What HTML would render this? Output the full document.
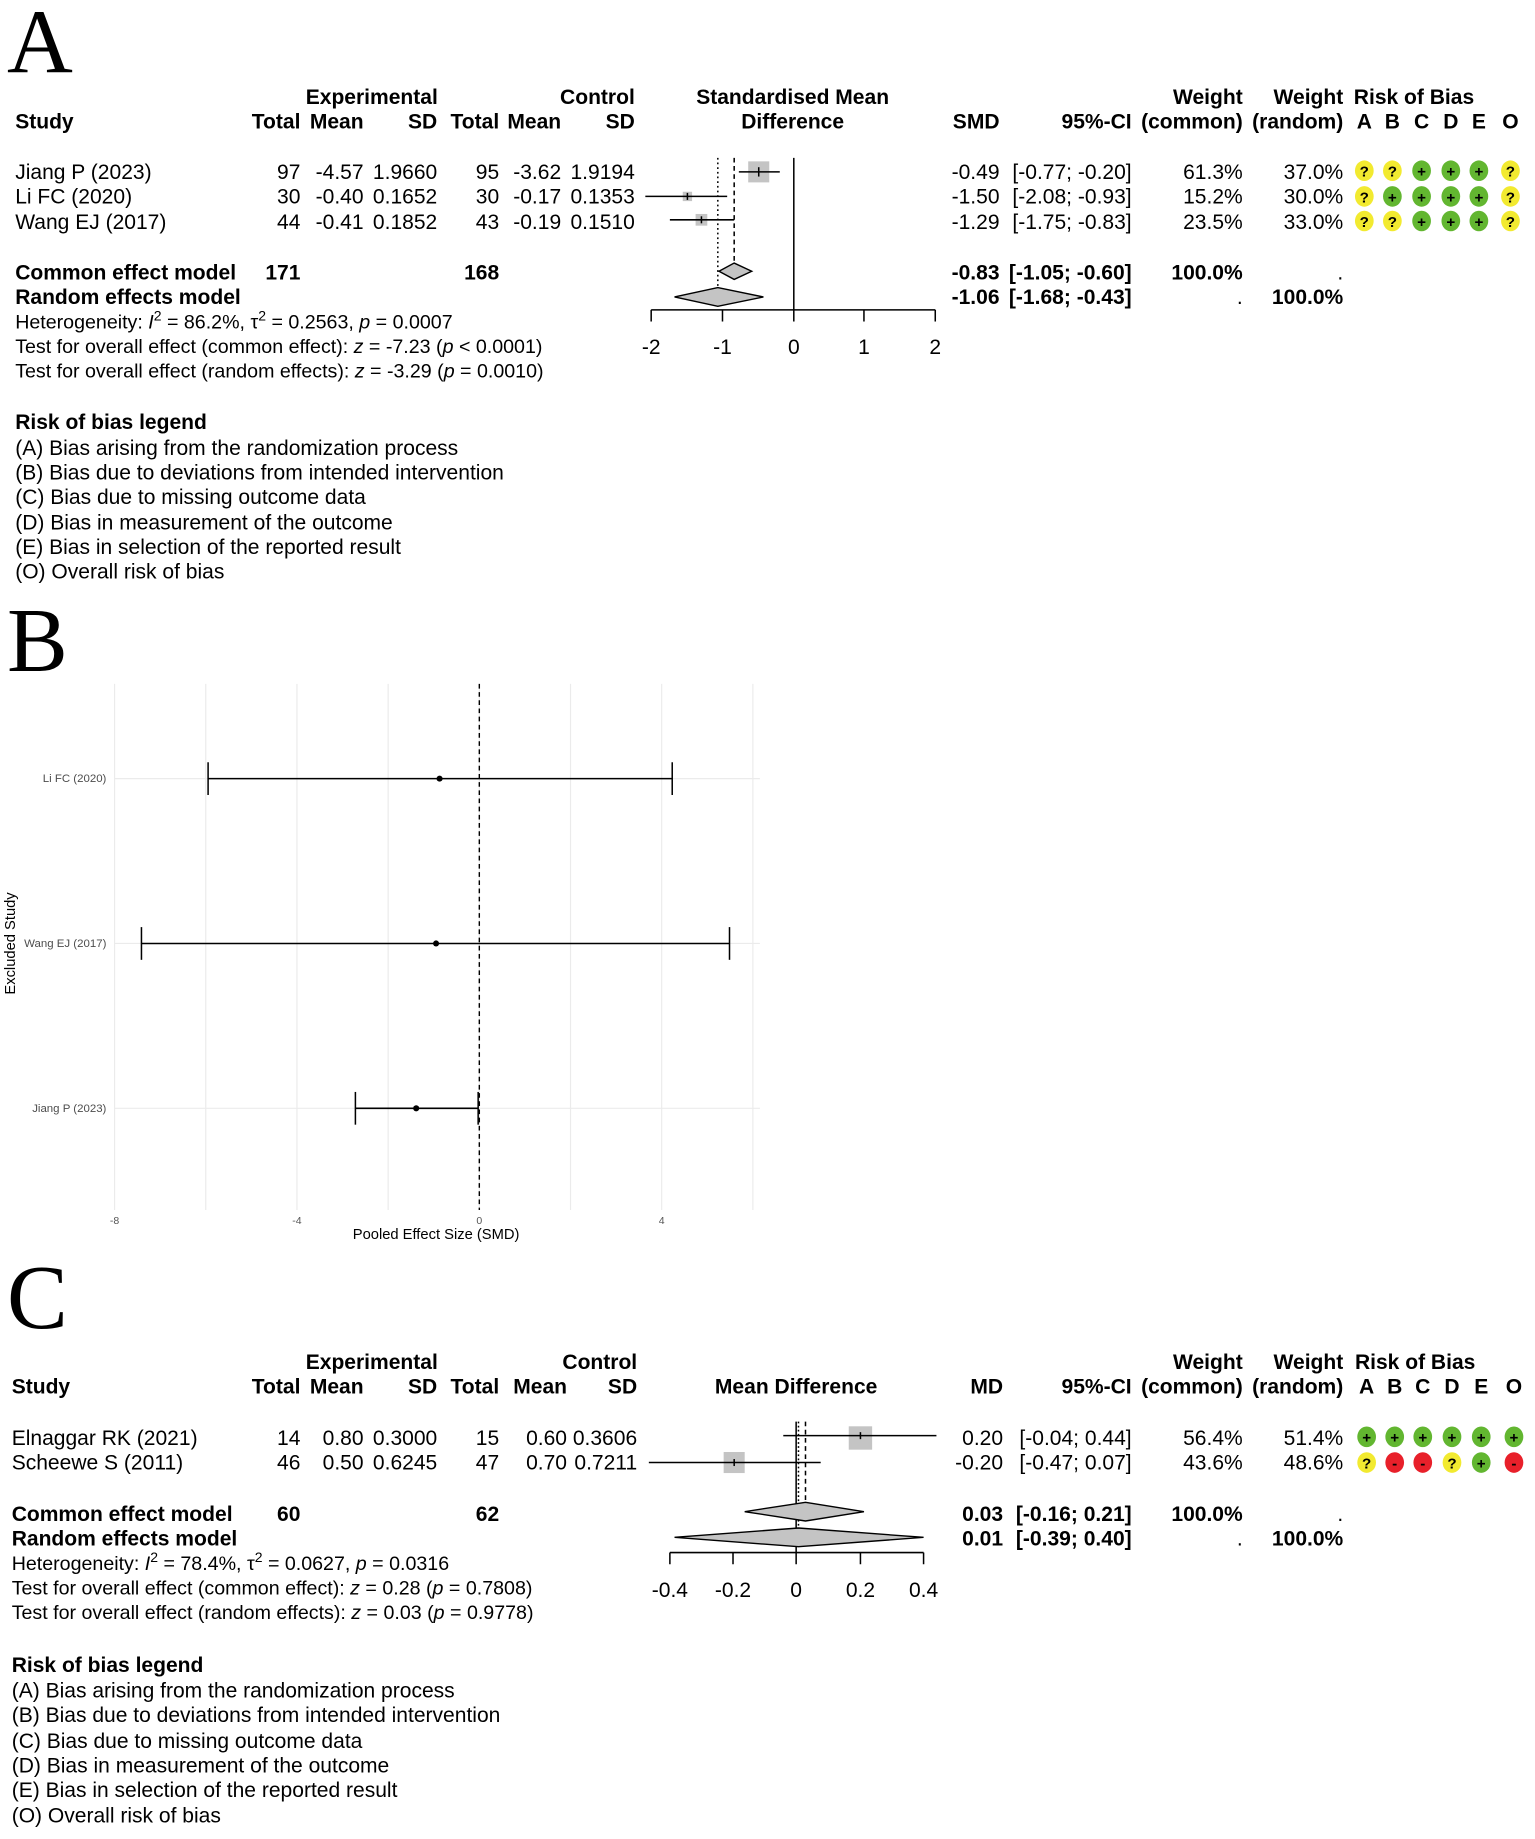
<!DOCTYPE html>
<html><head><meta charset="utf-8"><style>
html,body{margin:0;padding:0;background:#fff}
svg{display:block}
text{font-family:"Liberation Sans",Arial,sans-serif;font-size:18px;fill:#000}
.b{font-weight:bold}
.e{text-anchor:end}
.m{text-anchor:middle}
.big{font-family:"Liberation Serif",serif;font-size:78px}
.g{font-size:9px;fill:#555}
.s{font-size:9.8px;fill:#4d4d4d}
.ax{font-size:12.6px;fill:#000}
.st{font-size:16.8px}
.q{font-size:13px;font-weight:bold;text-anchor:middle}
</style></head><body>
<svg width="1535" height="1839" viewBox="0 0 1313 1573" xmlns="http://www.w3.org/2000/svg">
<rect width="1313" height="1573" fill="#fff"/>
<!-- ================= A ================= -->
<text x="6" y="62" class="big">A</text>
<g class="b">
<text x="318" y="89" class="m">Experimental</text>
<text x="543" y="89" class="e">Control</text>
<text x="678" y="89" class="m">Standardised Mean</text>
<text x="1063" y="89" class="e">Weight</text>
<text x="1149" y="89" class="e">Weight</text>
<text x="1158" y="89">Risk of Bias</text>
<text x="13" y="110">Study</text>
<text x="257" y="110" class="e">Total</text>
<text x="311" y="110" class="e">Mean</text>
<text x="374" y="110" class="e">SD</text>
<text x="427" y="110" class="e">Total</text>
<text x="480" y="110" class="e">Mean</text>
<text x="543" y="110" class="e">SD</text>
<text x="678" y="110" class="m">Difference</text>
<text x="855" y="110" class="e">SMD</text>
<text x="968" y="110" class="e">95%-CI</text>
<text x="1063" y="110" class="e">(common)</text>
<text x="1149" y="110" class="e">(random)</text>
<text x="1167" y="110" class="m">A</text><text x="1191" y="110" class="m">B</text><text x="1216" y="110" class="m">C</text><text x="1241" y="110" class="m">D</text><text x="1265" y="110" class="m">E</text><text x="1292" y="110" class="m">O</text>
</g>
<g>
<text x="13" y="153">Jiang P (2023)</text><text x="257" y="153" class="e">97</text><text x="311" y="153" class="e">-4.57</text><text x="374" y="153" class="e">1.9660</text><text x="427" y="153" class="e">95</text><text x="480" y="153" class="e">-3.62</text><text x="543" y="153" class="e">1.9194</text>
<text x="855" y="153" class="e">-0.49</text><text x="968" y="153" class="e">[-0.77; -0.20]</text><text x="1063" y="153" class="e">61.3%</text><text x="1149" y="153" class="e">37.0%</text>
<text x="13" y="174">Li FC (2020)</text><text x="257" y="174" class="e">30</text><text x="311" y="174" class="e">-0.40</text><text x="374" y="174" class="e">0.1652</text><text x="427" y="174" class="e">30</text><text x="480" y="174" class="e">-0.17</text><text x="543" y="174" class="e">0.1353</text>
<text x="855" y="174" class="e">-1.50</text><text x="968" y="174" class="e">[-2.08; -0.93]</text><text x="1063" y="174" class="e">15.2%</text><text x="1149" y="174" class="e">30.0%</text>
<text x="13" y="196">Wang EJ (2017)</text><text x="257" y="196" class="e">44</text><text x="311" y="196" class="e">-0.41</text><text x="374" y="196" class="e">0.1852</text><text x="427" y="196" class="e">43</text><text x="480" y="196" class="e">-0.19</text><text x="543" y="196" class="e">0.1510</text>
<text x="855" y="196" class="e">-1.29</text><text x="968" y="196" class="e">[-1.75; -0.83]</text><text x="1063" y="196" class="e">23.5%</text><text x="1149" y="196" class="e">33.0%</text>
</g>
<g class="b">
<text x="13" y="239">Common effect model</text><text x="257" y="239" class="e">171</text><text x="427" y="239" class="e">168</text>
<text x="855" y="239" class="e">-0.83</text><text x="968" y="239" class="e">[-1.05; -0.60]</text><text x="1063" y="239" class="e">100.0%</text><text x="1149" y="239" class="e" style="font-weight:normal">.</text>
<text x="13" y="260">Random effects model</text>
<text x="855" y="260" class="e">-1.06</text><text x="968" y="260" class="e">[-1.68; -0.43]</text><text x="1063" y="260" class="e" style="font-weight:normal">.</text><text x="1149" y="260" class="e">100.0%</text>
</g>
<text x="13" y="281" class="st">Heterogeneity: <tspan font-style="italic">I</tspan><tspan dy="-7" font-size="12">2</tspan><tspan dy="7"> = 86.2%, τ</tspan><tspan dy="-7" font-size="12">2</tspan><tspan dy="7"> = 0.2563, </tspan><tspan font-style="italic">p</tspan> = 0.0007</text>
<text x="13" y="302" class="st">Test for overall effect (common effect): <tspan font-style="italic">z</tspan> = -7.23 (<tspan font-style="italic">p</tspan> &lt; 0.0001)</text>
<text x="13" y="323" class="st">Test for overall effect (random effects): <tspan font-style="italic">z</tspan> = -3.29 (<tspan font-style="italic">p</tspan> = 0.0010)</text>
<text x="13" y="367" class="b">Risk of bias legend</text>
<text x="13" y="389">(A) Bias arising from the randomization process</text>
<text x="13" y="410">(B) Bias due to deviations from intended intervention</text>
<text x="13" y="431">(C) Bias due to missing outcome data</text>
<text x="13" y="453">(D) Bias in measurement of the outcome</text>
<text x="13" y="474">(E) Bias in selection of the reported result</text>
<text x="13" y="495">(O) Overall risk of bias</text>
<!-- plot A -->
<g stroke="#000" stroke-width="1.3" fill="none">
<line x1="679" y1="135" x2="679" y2="265"/>
<line x1="628" y1="135" x2="628" y2="226" stroke-dasharray="4,3"/>
<line x1="614" y1="135" x2="614" y2="248" stroke-dasharray="1.5,2.5"/>
<line x1="557" y1="265" x2="800" y2="265"/>
<line x1="557" y1="265" x2="557" y2="275"/><line x1="618" y1="265" x2="618" y2="275"/><line x1="679" y1="265" x2="679" y2="275"/><line x1="739" y1="265" x2="739" y2="275"/><line x1="800" y1="265" x2="800" y2="275"/>
</g>
<rect x="640" y="138" width="18" height="18" fill="#c4c4c4"/>
<rect x="584" y="164" width="8" height="8" fill="#c4c4c4"/>
<rect x="595" y="183" width="10" height="10" fill="#c4c4c4"/>
<g stroke="#000" stroke-width="1.3">
<line x1="632" y1="147" x2="667" y2="147"/><line x1="649" y1="143" x2="649" y2="151"/>
<line x1="552" y1="168" x2="622" y2="168"/><line x1="588" y1="165" x2="588" y2="171"/>
<line x1="573" y1="188" x2="628" y2="188"/><line x1="600" y1="185" x2="600" y2="191"/>
</g>
<polygon points="615,232 628,225 643,232 628,239" fill="#c4c4c4" stroke="#000" stroke-width="1.2"/>
<polygon points="577,254 614,246 653,254 614,262" fill="#c4c4c4" stroke="#000" stroke-width="1.2"/>
<text x="557" y="303" class="m">-2</text><text x="618" y="303" class="m">-1</text><text x="679" y="303" class="m">0</text><text x="739" y="303" class="m">1</text><text x="800" y="303" class="m">2</text>
<!-- ROB A -->
<g>
<g transform="translate(0,146)">
<ellipse cx="1167" cy="0" rx="8" ry="8.8" fill="#f2ea30"/><text x="1167" y="5" class="q">?</text>
<ellipse cx="1191" cy="0" rx="8" ry="8.8" fill="#f2ea30"/><text x="1191" y="5" class="q">?</text>
<ellipse cx="1216" cy="0" rx="8" ry="8.8" fill="#62b630"/><text x="1216" y="5" class="q">+</text>
<ellipse cx="1241" cy="0" rx="8" ry="8.8" fill="#62b630"/><text x="1241" y="5" class="q">+</text>
<ellipse cx="1265" cy="0" rx="8" ry="8.8" fill="#62b630"/><text x="1265" y="5" class="q">+</text>
<ellipse cx="1292" cy="0" rx="8" ry="8.8" fill="#f2ea30"/><text x="1292" y="5" class="q">?</text>
</g>
<g transform="translate(0,168)">
<ellipse cx="1167" cy="0" rx="8" ry="8.8" fill="#f2ea30"/><text x="1167" y="5" class="q">?</text>
<ellipse cx="1191" cy="0" rx="8" ry="8.8" fill="#62b630"/><text x="1191" y="5" class="q">+</text>
<ellipse cx="1216" cy="0" rx="8" ry="8.8" fill="#62b630"/><text x="1216" y="5" class="q">+</text>
<ellipse cx="1241" cy="0" rx="8" ry="8.8" fill="#62b630"/><text x="1241" y="5" class="q">+</text>
<ellipse cx="1265" cy="0" rx="8" ry="8.8" fill="#62b630"/><text x="1265" y="5" class="q">+</text>
<ellipse cx="1292" cy="0" rx="8" ry="8.8" fill="#f2ea30"/><text x="1292" y="5" class="q">?</text>
</g>
<g transform="translate(0,189)">
<ellipse cx="1167" cy="0" rx="8" ry="8.8" fill="#f2ea30"/><text x="1167" y="5" class="q">?</text>
<ellipse cx="1191" cy="0" rx="8" ry="8.8" fill="#f2ea30"/><text x="1191" y="5" class="q">?</text>
<ellipse cx="1216" cy="0" rx="8" ry="8.8" fill="#62b630"/><text x="1216" y="5" class="q">+</text>
<ellipse cx="1241" cy="0" rx="8" ry="8.8" fill="#62b630"/><text x="1241" y="5" class="q">+</text>
<ellipse cx="1265" cy="0" rx="8" ry="8.8" fill="#62b630"/><text x="1265" y="5" class="q">+</text>
<ellipse cx="1292" cy="0" rx="8" ry="8.8" fill="#f2ea30"/><text x="1292" y="5" class="q">?</text>
</g>
</g>
<!-- ================= B ================= -->
<text x="6" y="574" class="big">B</text>
<g stroke="#ebebeb" stroke-width="1">
<line x1="98" y1="585" x2="98" y2="1035"/><line x1="176" y1="585" x2="176" y2="1035"/><line x1="254" y1="585" x2="254" y2="1035"/><line x1="332" y1="585" x2="332" y2="1035"/><line x1="410" y1="585" x2="410" y2="1035"/><line x1="488" y1="585" x2="488" y2="1035"/><line x1="566" y1="585" x2="566" y2="1035"/><line x1="644" y1="585" x2="644" y2="1035"/>
<line x1="98" y1="666" x2="650" y2="666"/><line x1="98" y1="807" x2="650" y2="807"/><line x1="98" y1="948" x2="650" y2="948"/>
</g>
<line x1="410" y1="585" x2="410" y2="1035" stroke="#000" stroke-width="1.2" stroke-dasharray="4,3"/>
<g stroke="#000" stroke-width="1.3">
<line x1="178" y1="666" x2="575" y2="666"/><line x1="178" y1="652" x2="178" y2="680"/><line x1="575" y1="652" x2="575" y2="680"/>
<line x1="121" y1="807" x2="624" y2="807"/><line x1="121" y1="793" x2="121" y2="821"/><line x1="624" y1="793" x2="624" y2="821"/>
<line x1="304" y1="948" x2="409" y2="948"/><line x1="304" y1="934" x2="304" y2="962"/><line x1="409" y1="934" x2="409" y2="962"/>
</g>
<circle cx="376" cy="666" r="2.6"/><circle cx="373" cy="807" r="2.6"/><circle cx="356" cy="948" r="2.6"/>
<text x="91" y="669" class="s e">Li FC (2020)</text>
<text x="91" y="810" class="s e">Wang EJ (2017)</text>
<text x="91" y="951" class="s e">Jiang P (2023)</text>
<text x="98" y="1047" class="g m">-8</text><text x="254" y="1047" class="g m">-4</text><text x="410" y="1047" class="g m">0</text><text x="566" y="1047" class="g m">4</text>
<text x="373" y="1060" class="ax m">Pooled Effect Size (SMD)</text>
<text transform="translate(13,807) rotate(-90)" class="ax m">Excluded Study</text>
<!-- ================= C ================= -->
<text x="6" y="1136" class="big">C</text>
<g class="b">
<text x="318" y="1171" class="m">Experimental</text>
<text x="545" y="1171" class="e">Control</text>
<text x="1063" y="1171" class="e">Weight</text>
<text x="1149" y="1171" class="e">Weight</text>
<text x="1159" y="1171">Risk of Bias</text>
<text x="10" y="1192">Study</text>
<text x="257" y="1192" class="e">Total</text>
<text x="311" y="1192" class="e">Mean</text>
<text x="374" y="1192" class="e">SD</text>
<text x="427" y="1192" class="e">Total</text>
<text x="485" y="1192" class="e">Mean</text>
<text x="545" y="1192" class="e">SD</text>
<text x="681" y="1192" class="m">Mean Difference</text>
<text x="858" y="1192" class="e">MD</text>
<text x="968" y="1192" class="e">95%-CI</text>
<text x="1063" y="1192" class="e">(common)</text>
<text x="1149" y="1192" class="e">(random)</text>
<text x="1169" y="1192" class="m">A</text><text x="1193" y="1192" class="m">B</text><text x="1217" y="1192" class="m">C</text><text x="1242" y="1192" class="m">D</text><text x="1267" y="1192" class="m">E</text><text x="1295" y="1192" class="m">O</text>
</g>
<g>
<text x="10" y="1236">Elnaggar RK (2021)</text><text x="257" y="1236" class="e">14</text><text x="311" y="1236" class="e">0.80</text><text x="374" y="1236" class="e">0.3000</text><text x="427" y="1236" class="e">15</text><text x="485" y="1236" class="e">0.60</text><text x="545" y="1236" class="e">0.3606</text>
<text x="858" y="1236" class="e">0.20</text><text x="968" y="1236" class="e">[-0.04; 0.44]</text><text x="1063" y="1236" class="e">56.4%</text><text x="1149" y="1236" class="e">51.4%</text>
<text x="10" y="1257">Scheewe S (2011)</text><text x="257" y="1257" class="e">46</text><text x="311" y="1257" class="e">0.50</text><text x="374" y="1257" class="e">0.6245</text><text x="427" y="1257" class="e">47</text><text x="485" y="1257" class="e">0.70</text><text x="545" y="1257" class="e">0.7211</text>
<text x="858" y="1257" class="e">-0.20</text><text x="968" y="1257" class="e">[-0.47; 0.07]</text><text x="1063" y="1257" class="e">43.6%</text><text x="1149" y="1257" class="e">48.6%</text>
</g>
<g class="b">
<text x="10" y="1301">Common effect model</text><text x="257" y="1301" class="e">60</text><text x="427" y="1301" class="e">62</text>
<text x="858" y="1301" class="e">0.03</text><text x="968" y="1301" class="e">[-0.16; 0.21]</text><text x="1063" y="1301" class="e">100.0%</text><text x="1149" y="1301" class="e" style="font-weight:normal">.</text>
<text x="10" y="1322">Random effects model</text>
<text x="858" y="1322" class="e">0.01</text><text x="968" y="1322" class="e">[-0.39; 0.40]</text><text x="1063" y="1322" class="e" style="font-weight:normal">.</text><text x="1149" y="1322" class="e">100.0%</text>
</g>
<text x="10" y="1343" class="st">Heterogeneity: <tspan font-style="italic">I</tspan><tspan dy="-7" font-size="12">2</tspan><tspan dy="7"> = 78.4%, τ</tspan><tspan dy="-7" font-size="12">2</tspan><tspan dy="7"> = 0.0627, </tspan><tspan font-style="italic">p</tspan> = 0.0316</text>
<text x="10" y="1364" class="st">Test for overall effect (common effect): <tspan font-style="italic">z</tspan> = 0.28 (<tspan font-style="italic">p</tspan> = 0.7808)</text>
<text x="10" y="1385" class="st">Test for overall effect (random effects): <tspan font-style="italic">z</tspan> = 0.03 (<tspan font-style="italic">p</tspan> = 0.9778)</text>
<text x="10" y="1430" class="b">Risk of bias legend</text>
<text x="10" y="1452">(A) Bias arising from the randomization process</text>
<text x="10" y="1473">(B) Bias due to deviations from intended intervention</text>
<text x="10" y="1495">(C) Bias due to missing outcome data</text>
<text x="10" y="1516">(D) Bias in measurement of the outcome</text>
<text x="10" y="1537">(E) Bias in selection of the reported result</text>
<text x="10" y="1559">(O) Overall risk of bias</text>
<!-- plot C -->
<rect x="726" y="1220" width="20" height="20" fill="#c4c4c4"/>
<rect x="619" y="1242" width="18" height="18" fill="#c4c4c4"/>
<g stroke="#000" stroke-width="1.3" fill="none">
<line x1="681" y1="1216" x2="681" y2="1328"/>
<line x1="689" y1="1216" x2="689" y2="1288" stroke-dasharray="4,3"/>
<line x1="683" y1="1216" x2="683" y2="1310" stroke-dasharray="1.5,2"/>
<line x1="573" y1="1328" x2="790" y2="1328"/>
<line x1="573" y1="1328" x2="573" y2="1338"/><line x1="627" y1="1328" x2="627" y2="1338"/><line x1="681" y1="1328" x2="681" y2="1338"/><line x1="736" y1="1328" x2="736" y2="1338"/><line x1="790" y1="1328" x2="790" y2="1338"/>
<line x1="670" y1="1228" x2="801" y2="1228"/><line x1="736" y1="1225" x2="736" y2="1231"/>
<line x1="555" y1="1251" x2="702" y2="1251"/><line x1="628" y1="1248" x2="628" y2="1254"/>
</g>
<polygon points="637,1293 689,1285 739,1293 689,1301" fill="#c4c4c4" stroke="#000" stroke-width="1.2"/>
<polygon points="577,1315 683,1307 790,1315 683,1323" fill="#c4c4c4" stroke="#000" stroke-width="1.2"/>
<text x="573" y="1366" class="m">-0.4</text><text x="627" y="1366" class="m">-0.2</text><text x="681" y="1366" class="m">0</text><text x="736" y="1366" class="m">0.2</text><text x="790" y="1366" class="m">0.4</text>
<!-- ROB C -->
<g transform="translate(0,1229)">
<ellipse cx="1169" cy="0" rx="8" ry="8.8" fill="#62b630"/><text x="1169" y="5" class="q">+</text>
<ellipse cx="1193" cy="0" rx="8" ry="8.8" fill="#62b630"/><text x="1193" y="5" class="q">+</text>
<ellipse cx="1217" cy="0" rx="8" ry="8.8" fill="#62b630"/><text x="1217" y="5" class="q">+</text>
<ellipse cx="1242" cy="0" rx="8" ry="8.8" fill="#62b630"/><text x="1242" y="5" class="q">+</text>
<ellipse cx="1267" cy="0" rx="8" ry="8.8" fill="#62b630"/><text x="1267" y="5" class="q">+</text>
<ellipse cx="1295" cy="0" rx="8" ry="8.8" fill="#62b630"/><text x="1295" y="5" class="q">+</text>
</g>
<g transform="translate(0,1251)">
<ellipse cx="1169" cy="0" rx="8" ry="8.8" fill="#f2ea30"/><text x="1169" y="5" class="q">?</text>
<ellipse cx="1193" cy="0" rx="8" ry="8.8" fill="#e8202a"/><text x="1193" y="5" class="q">-</text>
<ellipse cx="1217" cy="0" rx="8" ry="8.8" fill="#e8202a"/><text x="1217" y="5" class="q">-</text>
<ellipse cx="1242" cy="0" rx="8" ry="8.8" fill="#f2ea30"/><text x="1242" y="5" class="q">?</text>
<ellipse cx="1267" cy="0" rx="8" ry="8.8" fill="#62b630"/><text x="1267" y="5" class="q">+</text>
<ellipse cx="1295" cy="0" rx="8" ry="8.8" fill="#e8202a"/><text x="1295" y="5" class="q">-</text>
</g>
</svg>
</body></html>
